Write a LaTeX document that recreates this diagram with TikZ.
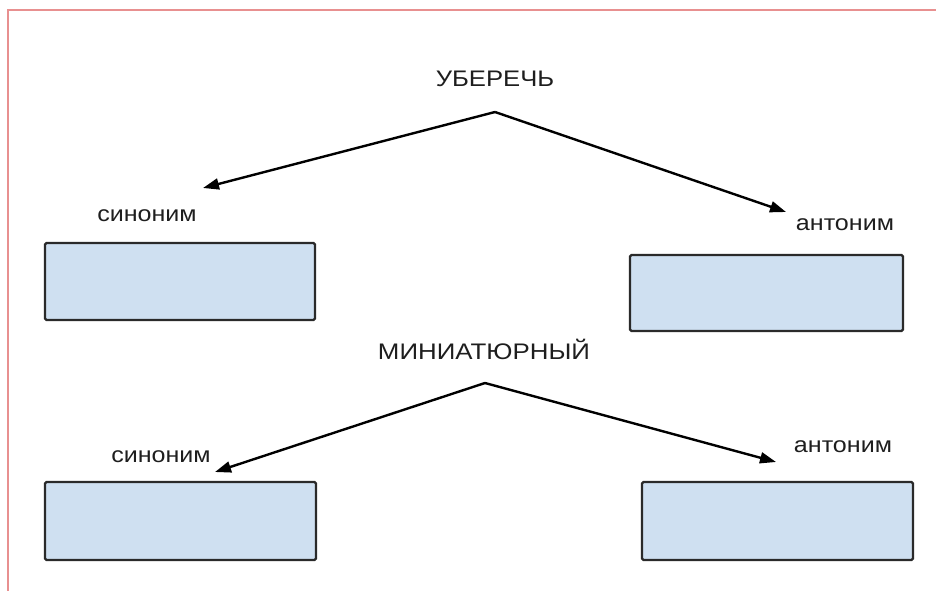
\documentclass[tikz,border=0pt]{standalone}
\usepackage{fontspec}
\setmainfont{Liberation Sans}
\usetikzlibrary{arrows.meta}
\definecolor{boxfill}{HTML}{CFE0F1}
\definecolor{boxline}{HTML}{2A2A2A}
\definecolor{frame}{HTML}{E89090}
\definecolor{txt}{HTML}{1E1E1E}
\tikzset{
  wordbox/.style={draw=boxline, fill=boxfill, line width=2.4pt, rounded corners=1.5pt, inner sep=0pt},
  lbl/.style={anchor=base, inner sep=0pt, text=txt, font=\fontsize{22}{26}\selectfont},
  title/.style={anchor=base, inner sep=0pt, text=txt, font=\fontsize{22.5}{27}\selectfont},
  conn/.style={line width=2.4pt, black, -{Triangle[length=16pt,width=11pt]}}
}
\begin{document}
\begin{tikzpicture}[x=1pt,y=-1pt]
\useasboundingbox (0,0) rectangle (936,591);
\fill[white] (0,0) rectangle (936,591);
\draw[frame, line width=1.5pt] (936,10) -- (8,10) -- (8,591);

\node[title] (t1) at (495,87) {\scalebox{1.14}[1]{УБЕРЕЧЬ}};
\node[title] (t2) at (484,359) {\scalebox{1.15}[1]{МИНИАТЮРНЫЙ}};

\node[lbl] (s1) at (147,221) {\scalebox{1.14}[1]{синоним}};
\node[lbl] (a1) at (845,230) {\scalebox{1.14}[1]{антоним}};
\node[lbl] (s2) at (161,462) {\scalebox{1.14}[1]{синоним}};
\node[lbl] (a2) at (843,452) {\scalebox{1.14}[1]{антоним}};

\node[wordbox, minimum width=270pt, minimum height=77pt] (b1) at (180,281.5) {};
\node[wordbox, minimum width=273pt, minimum height=76pt] (b2) at (766.5,293) {};
\node[wordbox, minimum width=271pt, minimum height=78pt] (b3) at (180.5,521) {};
\node[wordbox, minimum width=271pt, minimum height=78pt] (b4) at (777.5,521) {};

\coordinate (p1) at (495,112);
\coordinate (e1) at (203,188);
\coordinate (e2) at (786,212);
\coordinate (p2) at (485,383);
\coordinate (e3) at (215,472);
\coordinate (e4) at (776,462);

\draw[conn] (p1) -- (e1);
\draw[conn] (p1) -- (e2);
\draw[conn] (p2) -- (e3);
\draw[conn] (p2) -- (e4);
\end{tikzpicture}
\end{document}
